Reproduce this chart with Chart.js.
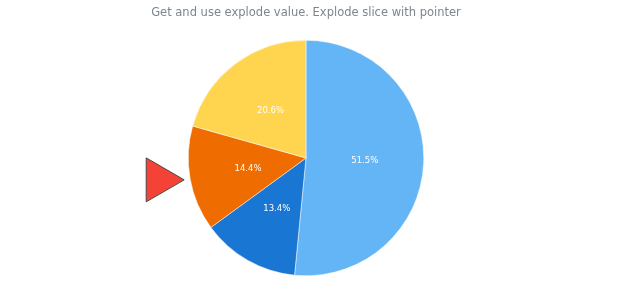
<!DOCTYPE html>
<html>
<head>
<meta charset="utf-8">
<script src="https://cdn.jsdelivr.net/npm/chart.js@4"></script>
<style>
  html, body { margin: 0; padding: 0; background: #fff; }
  #wrap { width: 620px; height: 300px; }
</style>
</head>
<body>
<div id="wrap"><canvas id="pieChart" width="620" height="300"></canvas></div>
<script>
// ===== Data =====
const labels = ['Slice A', 'Slice B', 'Slice C', 'Slice D'];
const values = [51.5, 13.4, 14.4, 20.6];   // shown as percent
const colors = ['#64b5f6', '#1976d2', '#ef6c00', '#ffd54f'];
const explodedIndex = 2; // slice marked by the pointer

// percentage labels inside slices
const sliceLabels = {
  id: 'sliceLabels',
  afterDatasetsDraw(chart) {
    const ctx = chart.ctx;
    const meta = chart.getDatasetMeta(0);
    ctx.save();
    ctx.fillStyle = '#ffffff';
    ctx.font = '8.5px "DejaVu Sans"';
    ctx.textAlign = 'center';
    ctx.textBaseline = 'middle';
    meta.data.forEach((arc, i) => {
      const mid = (arc.startAngle + arc.endAngle) / 2;
      const r = arc.outerRadius / 2;
      const x = arc.x + Math.cos(mid) * r;
      const y = arc.y + Math.sin(mid) * r;
      ctx.fillText(values[i].toFixed(1) + '%', x, y);
    });
    ctx.restore();
  }
};

// red pointer aimed at the exploded slice
const slicePointer = {
  id: 'slicePointer',
  afterDatasetsDraw(chart) {
    const ctx = chart.ctx;
    const arc = chart.getDatasetMeta(0).data[explodedIndex];
    const mid = (arc.startAngle + arc.endAngle) / 2;
    const r = arc.outerRadius + 6;
    const tx = arc.x + Math.cos(mid) * r;
    const ty = arc.y + Math.sin(mid) * r;
    ctx.save();
    ctx.beginPath();
    ctx.moveTo(tx, ty);
    ctx.lineTo(tx - 38, ty - 22);
    ctx.lineTo(tx - 38, ty + 22);
    ctx.closePath();
    ctx.fillStyle = '#f44336';
    ctx.fill();
    ctx.lineWidth = 1;
    ctx.strokeStyle = '#4a4a4a';
    ctx.stroke();
    ctx.restore();
  }
};

new Chart(document.getElementById('pieChart'), {
  type: 'pie',
  data: {
    labels: labels,
    datasets: [{
      data: values,
      backgroundColor: colors,
      borderColor: '#ffffff',
      borderWidth: 0.5
    }]
  },
  options: {
    responsive: false,
    animation: false,
    layout: { padding: { left: 0, right: 8, top: 0, bottom: 24 } },
    plugins: {
      legend: { display: false },
      tooltip: { enabled: false },
      title: {
        display: true,
        text: 'Get and use explode value. Explode slice with pointer',
        color: '#7c868e',
        font: { family: 'DejaVu Sans', size: 11.5, weight: 'normal' },
        padding: { top: 6, bottom: 20.2 }
      }
    }
  },
  plugins: [sliceLabels, slicePointer]
});
</script>
</body>
</html>
